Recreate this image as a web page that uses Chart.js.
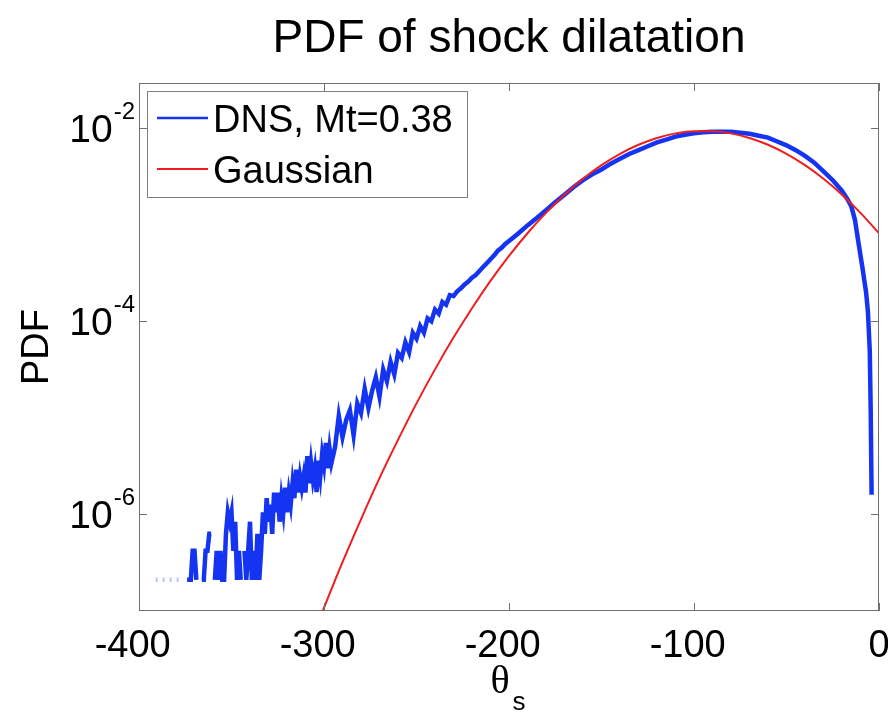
<!DOCTYPE html>
<html><head><meta charset="utf-8">
<script src="https://cdn.jsdelivr.net/npm/chart.js@4.4.1/dist/chart.umd.min.js"></script>
<style>html,body{margin:0;padding:0;background:#fff;}canvas{display:block;}</style>
</head><body>
<canvas id="c" width="888" height="713"></canvas>
<script>
const titleText = 'PDF of shock dilatation';
const xAxisSymbol = 'θ';
const xAxisSub = 's';
const yAxisTitle = 'PDF';
const seriesNames = ['DNS, Mt=0.38', 'Gaussian'];
const xTicks = [-400, -300, -200, -100, 0];
const yTicks = [1e-6, 1e-4, 1e-2];
const yTickExp = ['-6', '-4', '-2'];

const dnsTheta = [
-391,-390,-389,-388,-387,-386,-385,-384,-383,-382,
-381,-380,-379,-378,-377,-376,-375,-374,-373,-372,
-371,-370,-369,-368,-367,-366,-365,-364,-363,-362,
-361,-360,-359,-358,-357,-356,-355,-354,-353,-352,
-351,-350,-349,-348,-347,-346,-345,-344,-343,-342,
-341,-340,-339,-338,-337,-336,-335,-334,-333,-332,
-331,-330,-329,-328,-327,-326,-325,-324,-323,-322,
-321,-320,-319,-318,-317,-316,-315,-314,-313,-312,
-311,-310,-309,-308,-307,-306,-305,-304,-303,-302,
-301,-300,-299,-298,-297,-296,
-294,-292,-290,-288,-286,-284,-282,-280,-278,-276,
-274,-272,-270,-268,-266,-264,-262,-260,-258,-256,
-254,-252,-250,-248,-246,-244,-242,-240,-238,-236,
-234,-232,-230,-228,-226,-224,-222,-220,-218,-216,
-214,-212,-210,-208,-206,-204,-202,-200,
-195,-190,-185,-180,-175,-170,-165,-160,-155,-150,
-145,-140,-135,-130,-125,-120,-115,-110,-105,-100,
-95,-90,-85,-80,-75,-70,-65,-60,-55,-50,
-45,-40,-35,-30,-25,-20,-17,-15,-13,-11,
-9,-7,-6,-5,-4.5,-4
];
const dnsPdf = [
2.1e-7,2.1e-7,2.1e-7,2.1e-7,2.1e-7,2.1e-7,2.1e-7,2.1e-7,2.1e-7,2.1e-7,
2.1e-7,2.1e-7,2.1e-7,2.1e-7,2.1e-7,2.1e-7,null,2.1e-7,2.1e-7,2.1e-7,
4.2e-7,4.2e-7,2.1e-7,null,null,2.1e-7,2.1e-7,4.2e-7,4.2e-7,6.3e-7,
6.3e-7,null,2.1e-7,4.2e-7,2.1e-7,4.2e-7,2.1e-7,2.1e-7,6.3e-7,1.05e-6,
8.4e-7,1.05e-6,4.2e-7,8.4e-7,2.1e-7,4.2e-7,2.1e-7,null,4.2e-7,2.1e-7,
4.2e-7,8.4e-7,2.1e-7,4.2e-7,2.1e-7,6.3e-7,2.1e-7,4.2e-7,1.05e-6,6.3e-7,
1.47e-6,8.4e-7,1.26e-6,6.3e-7,1.68e-6,1.05e-6,1.68e-6,8.4e-7,1.47e-6,1.05e-6,
1.89e-6,1.05e-6,1.68e-6,1.26e-6,2.1e-6,1.47e-6,2.9e-6,1.68e-6,2.5e-6,1.89e-6,
2.5e-6,1.68e-6,4.0e-6,2.1e-6,3.4e-6,2.3e-6,3.0e-6,1.7e-6,3.6e-6,2.5e-6,
4.2e-6,3.2e-6,5.5e-6,3.0e-6,4.8e-6,3.4e-6,
5.0e-6,1.05e-5,6.3e-6,9.5e-6,1.2e-5,6.6e-6,1.41e-5,1.12e-5,2.0e-5,1.26e-5,
1.9e-5,2.63e-5,1.66e-5,3.16e-5,2.4e-5,3.8e-5,2.82e-5,4.68e-5,4.17e-5,6.03e-5,
4.79e-5,7.59e-5,6.61e-5,8.91e-5,7.59e-5,1.07e-4,1.0e-4,1.32e-4,1.2e-4,1.58e-4,
1.48e-4,1.86e-4,1.82e-4,2.04e-4,2.19e-4,2.4e-4,2.57e-4,2.82e-4,3.0e-4,3.3e-4,
3.63e-4,3.98e-4,4.37e-4,4.8e-4,5.37e-4,5.75e-4,6.3e-4,6.76e-4,
8.1e-4,9.8e-4,1.17e-3,1.41e-3,1.7e-3,2.04e-3,2.45e-3,2.88e-3,3.31e-3,3.72e-3,
4.27e-3,4.79e-3,5.37e-3,5.89e-3,6.46e-3,7.08e-3,7.59e-3,8.13e-3,8.51e-3,8.81e-3,
9.02e-3,9.12e-3,9.16e-3,9.12e-3,8.91e-3,8.71e-3,8.32e-3,7.94e-3,7.24e-3,6.61e-3,
5.89e-3,5.13e-3,4.37e-3,3.55e-3,2.88e-3,2.24e-3,1.82e-3,1.55e-3,1.12e-3,6.3e-4,
3.63e-4,2.0e-4,1.26e-4,5.0e-5,1.26e-5,1.6e-6
];

const gaussTheta = [-305,-300,-290,-280,-270,-260,-250,-240,-230,-220,-210,-200,-190,-180,-170,-160,-150,-140,-130,-120,-110,-100,-90,-80,-70,-60,-50,-40,-30,-20,-10,0];
const gaussPdf = [6.2e-8,1.08e-7,3.2e-7,8.9e-7,2.37e-6,5.9e-6,1.41e-5,3.17e-5,6.76e-5,1.36e-4,2.61e-4,4.73e-4,8.13e-4,1.32e-3,2.04e-3,2.98e-3,4.12e-3,5.40e-3,6.70e-3,7.88e-3,8.79e-3,9.27e-3,9.27e-3,8.79e-3,7.88e-3,6.70e-3,5.40e-3,4.12e-3,2.98e-3,2.04e-3,1.32e-3,8.13e-4];

const BLUE = '#1434f2';
const RED = '#ee1e1e';
const FONT = '"Liberation Sans", Arial, Helvetica, sans-serif';

const decor = {
  id: 'decor',
  beforeDraw(chart) {
    const ctx = chart.ctx;
    ctx.save();
    ctx.fillStyle = '#fff';
    ctx.fillRect(0, 0, chart.width, chart.height);
    ctx.restore();
  },
  afterDraw(chart) {
    const ctx = chart.ctx;
    const a = chart.chartArea;
    const xs = chart.scales.x, ys = chart.scales.y;
    ctx.save();
    ctx.strokeStyle = '#707070';
    ctx.lineWidth = 1;
    ctx.strokeRect(a.left + 0.5, a.top + 0.5, a.right - a.left - 1, a.bottom - a.top - 1);
    ctx.beginPath();
    xTicks.forEach(v => {
      const px = Math.round(xs.getPixelForValue(v)) + 0.5;
      ctx.moveTo(px, a.bottom); ctx.lineTo(px, a.bottom - 8);
      ctx.moveTo(px, a.top); ctx.lineTo(px, a.top + 8);
    });
    yTicks.forEach(v => {
      const py = Math.round(ys.getPixelForValue(v)) + 0.5;
      ctx.moveTo(a.left, py); ctx.lineTo(a.left + 8, py);
      ctx.moveTo(a.right, py); ctx.lineTo(a.right - 8, py);
    });
    ctx.stroke();

    ctx.fillStyle = '#000';
    ctx.font = '38px ' + FONT;
    ctx.textBaseline = 'alphabetic';
    xTicks.forEach(v => {
      const px = xs.getPixelForValue(v);
      const s = String(v);
      if (s[0] === '-') {
        const dw = ctx.measureText(s.slice(1)).width;
        ctx.textAlign = 'right';
        ctx.fillText(s, px + dw / 2, 657);
      } else {
        ctx.textAlign = 'center';
        ctx.fillText(s, px, 657);
      }
    });
    yTicks.forEach((v, i) => {
      const py = ys.getPixelForValue(v);
      ctx.textAlign = 'right';
      ctx.font = '24px ' + FONT;
      const ew = ctx.measureText(yTickExp[i]).width;
      ctx.fillText(yTickExp[i], 135, py - 9);
      ctx.font = '39px ' + FONT;
      ctx.fillText('10', 135 - ew - 1, py + 14);
    });
    ctx.save();
    ctx.translate(48, (a.top + a.bottom) / 2);
    ctx.rotate(-Math.PI / 2);
    ctx.textAlign = 'center';
    ctx.font = '38px ' + FONT;
    ctx.fillText(yAxisTitle, 0, 0);
    ctx.restore();
    ctx.textAlign = 'left';
    ctx.font = '40px "Liberation Serif", "DejaVu Serif", serif';
    const tw = ctx.measureText(xAxisSymbol).width;
    const cx = (a.left + a.right) / 2;
    ctx.fillText(xAxisSymbol, cx - tw / 2 - 9, 693);
    ctx.font = '26px ' + FONT;
    ctx.fillText(xAxisSub, cx + tw / 2 - 6, 710);
    ctx.textAlign = 'center';
    ctx.font = '46px ' + FONT;
    ctx.fillText(titleText, cx, 52);
    ctx.fillStyle = '#fff';
    ctx.fillRect(147.5, 91.5, 320, 106);
    ctx.strokeStyle = '#808080';
    ctx.lineWidth = 1;
    ctx.strokeRect(147.5, 91.5, 320, 106);
    ctx.lineWidth = 2.5;
    ctx.strokeStyle = BLUE;
    ctx.beginPath(); ctx.moveTo(157, 118); ctx.lineTo(208, 118); ctx.stroke();
    ctx.lineWidth = 1.8;
    ctx.strokeStyle = RED;
    ctx.beginPath(); ctx.moveTo(157, 169); ctx.lineTo(208, 169); ctx.stroke();
    ctx.fillStyle = '#000';
    ctx.textAlign = 'left';
    ctx.font = '38px ' + FONT;
    ctx.fillText(seriesNames[0], 213, 132);
    ctx.fillText(seriesNames[1], 213, 183);
    ctx.restore();
  }
};

const faint = c => c.p0.parsed.x < -374.5;
new Chart(document.getElementById('c'), {
  type: 'line',
  data: {
    datasets: [
      {
        label: seriesNames[0],
        data: dnsTheta.map((t, i) => ({ x: t, y: dnsPdf[i] })),
        borderColor: BLUE,
        borderWidth: 4.5,
        pointRadius: 0,
        spanGaps: false,
        tension: 0,
        order: 1,
        segment: {
          borderColor: c => faint(c) ? 'rgba(130,150,255,0.55)' : undefined,
          borderDash: c => faint(c) ? [2, 5] : undefined
        }
      },
      {
        label: seriesNames[1],
        data: gaussTheta.map((t, i) => ({ x: t, y: gaussPdf[i] })),
        borderColor: RED,
        borderWidth: 2,
        pointRadius: 0,
        cubicInterpolationMode: 'monotone',
        order: 0
      }
    ]
  },
  options: {
    responsive: false,
    animation: false,
    devicePixelRatio: 1,
    layout: { padding: { left: 139, right: 9, top: 83, bottom: 102 } },
    plugins: { legend: { display: false }, tooltip: { enabled: false }, title: { display: false } },
    scales: {
      x: { type: 'linear', min: -400, max: 0, display: false },
      y: { type: 'logarithmic', min: 1e-7, max: 0.0292, display: false }
    }
  },
  plugins: [decor]
});
</script>
</body></html>
